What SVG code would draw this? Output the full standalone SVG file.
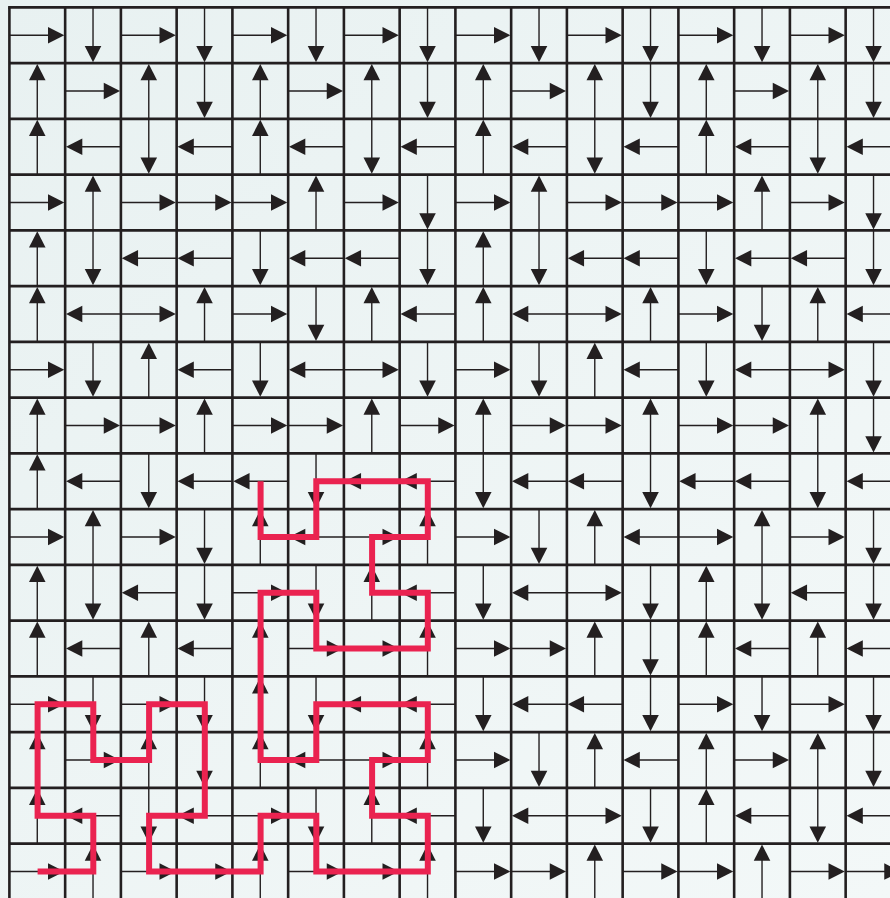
<svg xmlns="http://www.w3.org/2000/svg" width="890" height="898" viewBox="0 0 890 898">
<style>
.grid{fill:none;stroke:#231f20;stroke-width:2.6}
.arr line{stroke:#231f20;stroke-width:1.4;fill:none}
.arr polygon{fill:#231f20;stroke:none}
.path{fill:none;stroke:#ea2350;stroke-width:6;stroke-linejoin:miter;stroke-linecap:butt}
</style>
<defs>
<linearGradient id="bg" x1="0" y1="0" x2="1" y2="1">
<stop offset="0" stop-color="#e8f1f1"/>
<stop offset="1" stop-color="#f3f8f8"/>
</linearGradient>
<g id="R" class="arr"><line x1="0" y1="27.875" x2="40" y2="27.875" stroke="#231f20" stroke-width="1.4"/><polygon points="38.6,19.6 54.9,27.875 38.6,36.15" fill="#231f20"/></g>
<g id="L" class="arr"><line x1="55.75" y1="27.875" x2="15.75" y2="27.875" stroke="#231f20" stroke-width="1.4"/><polygon points="17.15,19.6 0.85,27.875 17.15,36.15" fill="#231f20"/></g>
<g id="D" class="arr"><line x1="27.875" y1="0" x2="27.875" y2="40" stroke="#231f20" stroke-width="1.4"/><polygon points="19.6,38.6 27.875,54.9 36.15,38.6" fill="#231f20"/></g>
<g id="U" class="arr"><line x1="27.875" y1="55.75" x2="27.875" y2="15.75" stroke="#231f20" stroke-width="1.4"/><polygon points="19.6,17.15 27.875,0.85 36.15,17.15" fill="#231f20"/></g>
</defs>
<rect x="0" y="0" width="890" height="898" fill="url(#bg)"/>
<g id="grid" class="grid">
<path d="M9.4 7.4V898M65.15 7.4V898M120.9 7.4V898M176.65 7.4V898M232.4 7.4V898M288.15 7.4V898M343.9 7.4V898M399.65 7.4V898M455.4 7.4V898M511.15 7.4V898M566.9 7.4V898M622.65 7.4V898M678.4 7.4V898M734.15 7.4V898M789.9 7.4V898M845.65 7.4V898"/>
<path d="M8.1 7.4H890M9.4 63.15H890M9.4 118.9H890M9.4 174.65H890M9.4 230.4H890M9.4 286.15H890M9.4 341.9H890M9.4 397.65H890M9.4 453.4H890M9.4 509.15H890M9.4 564.9H890M9.4 620.65H890M9.4 676.4H890M9.4 732.15H890M9.4 787.9H890M9.4 843.65H890"/>
</g>
<g id="arrows">
<g id="row0" transform="translate(9.4,7.4)">
<use href="#R" x="0"/><use href="#D" x="55.75"/><use href="#R" x="111.5"/><use href="#D" x="167.25"/><use href="#R" x="223"/><use href="#D" x="278.75"/><use href="#R" x="334.5"/><use href="#D" x="390.25"/><use href="#R" x="446"/><use href="#D" x="501.75"/><use href="#R" x="557.5"/><use href="#D" x="613.25"/><use href="#R" x="669"/><use href="#D" x="724.75"/><use href="#R" x="780.5"/><use href="#D" x="836.25"/>
</g>
<g id="row1" transform="translate(9.4,63.15)">
<use href="#U" x="0"/><use href="#R" x="55.75"/><use href="#U" x="111.5"/><use href="#D" x="167.25"/><use href="#U" x="223"/><use href="#R" x="278.75"/><use href="#U" x="334.5"/><use href="#D" x="390.25"/><use href="#U" x="446"/><use href="#R" x="501.75"/><use href="#U" x="557.5"/><use href="#D" x="613.25"/><use href="#U" x="669"/><use href="#R" x="724.75"/><use href="#U" x="780.5"/><use href="#D" x="836.25"/>
</g>
<g id="row2" transform="translate(9.4,118.9)">
<use href="#U" x="0"/><use href="#L" x="55.75"/><use href="#D" x="111.5"/><use href="#L" x="167.25"/><use href="#U" x="223"/><use href="#L" x="278.75"/><use href="#D" x="334.5"/><use href="#L" x="390.25"/><use href="#U" x="446"/><use href="#L" x="501.75"/><use href="#D" x="557.5"/><use href="#L" x="613.25"/><use href="#U" x="669"/><use href="#L" x="724.75"/><use href="#D" x="780.5"/><use href="#L" x="836.25"/>
</g>
<g id="row3" transform="translate(9.4,174.65)">
<use href="#R" x="0"/><use href="#U" x="55.75"/><use href="#R" x="111.5"/><use href="#R" x="167.25"/><use href="#R" x="223"/><use href="#U" x="278.75"/><use href="#R" x="334.5"/><use href="#D" x="390.25"/><use href="#R" x="446"/><use href="#U" x="501.75"/><use href="#R" x="557.5"/><use href="#R" x="613.25"/><use href="#R" x="669"/><use href="#U" x="724.75"/><use href="#R" x="780.5"/><use href="#D" x="836.25"/>
</g>
<g id="row4" transform="translate(9.4,230.4)">
<use href="#U" x="0"/><use href="#D" x="55.75"/><use href="#L" x="111.5"/><use href="#L" x="167.25"/><use href="#D" x="223"/><use href="#L" x="278.75"/><use href="#L" x="334.5"/><use href="#D" x="390.25"/><use href="#U" x="446"/><use href="#D" x="501.75"/><use href="#L" x="557.5"/><use href="#L" x="613.25"/><use href="#D" x="669"/><use href="#L" x="724.75"/><use href="#L" x="780.5"/><use href="#D" x="836.25"/>
</g>
<g id="row5" transform="translate(9.4,286.15)">
<use href="#U" x="0"/><use href="#L" x="55.75"/><use href="#R" x="111.5"/><use href="#U" x="167.25"/><use href="#R" x="223"/><use href="#D" x="278.75"/><use href="#U" x="334.5"/><use href="#L" x="390.25"/><use href="#U" x="446"/><use href="#L" x="501.75"/><use href="#R" x="557.5"/><use href="#U" x="613.25"/><use href="#R" x="669"/><use href="#D" x="724.75"/><use href="#U" x="780.5"/><use href="#L" x="836.25"/>
</g>
<g id="row6" transform="translate(9.4,341.9)">
<use href="#R" x="0"/><use href="#D" x="55.75"/><use href="#U" x="111.5"/><use href="#L" x="167.25"/><use href="#D" x="223"/><use href="#L" x="278.75"/><use href="#R" x="334.5"/><use href="#D" x="390.25"/><use href="#R" x="446"/><use href="#D" x="501.75"/><use href="#U" x="557.5"/><use href="#L" x="613.25"/><use href="#D" x="669"/><use href="#L" x="724.75"/><use href="#R" x="780.5"/><use href="#D" x="836.25"/>
</g>
<g id="row7" transform="translate(9.4,397.65)">
<use href="#U" x="0"/><use href="#R" x="55.75"/><use href="#R" x="111.5"/><use href="#U" x="167.25"/><use href="#R" x="223"/><use href="#R" x="278.75"/><use href="#U" x="334.5"/><use href="#R" x="390.25"/><use href="#U" x="446"/><use href="#R" x="501.75"/><use href="#R" x="557.5"/><use href="#U" x="613.25"/><use href="#R" x="669"/><use href="#R" x="724.75"/><use href="#U" x="780.5"/><use href="#D" x="836.25"/>
</g>
<g id="row8" transform="translate(9.4,453.4)">
<use href="#U" x="0"/><use href="#L" x="55.75"/><use href="#D" x="111.5"/><use href="#L" x="167.25"/><use href="#L" x="223"/><use href="#D" x="278.75"/><use href="#L" x="334.5"/><use href="#L" x="390.25"/><use href="#D" x="446"/><use href="#L" x="501.75"/><use href="#L" x="557.5"/><use href="#D" x="613.25"/><use href="#L" x="669"/><use href="#L" x="724.75"/><use href="#D" x="780.5"/><use href="#L" x="836.25"/>
</g>
<g id="row9" transform="translate(9.4,509.15)">
<use href="#R" x="0"/><use href="#U" x="55.75"/><use href="#R" x="111.5"/><use href="#D" x="167.25"/><use href="#U" x="223"/><use href="#L" x="278.75"/><use href="#R" x="334.5"/><use href="#U" x="390.25"/><use href="#R" x="446"/><use href="#D" x="501.75"/><use href="#U" x="557.5"/><use href="#L" x="613.25"/><use href="#R" x="669"/><use href="#U" x="724.75"/><use href="#R" x="780.5"/><use href="#D" x="836.25"/>
</g>
<g id="row10" transform="translate(9.4,564.9)">
<use href="#U" x="0"/><use href="#D" x="55.75"/><use href="#L" x="111.5"/><use href="#D" x="167.25"/><use href="#R" x="223"/><use href="#D" x="278.75"/><use href="#U" x="334.5"/><use href="#L" x="390.25"/><use href="#D" x="446"/><use href="#L" x="501.75"/><use href="#R" x="557.5"/><use href="#D" x="613.25"/><use href="#U" x="669"/><use href="#D" x="724.75"/><use href="#L" x="780.5"/><use href="#D" x="836.25"/>
</g>
<g id="row11" transform="translate(9.4,620.65)">
<use href="#U" x="0"/><use href="#L" x="55.75"/><use href="#U" x="111.5"/><use href="#L" x="167.25"/><use href="#U" x="223"/><use href="#R" x="278.75"/><use href="#R" x="334.5"/><use href="#U" x="390.25"/><use href="#R" x="446"/><use href="#R" x="501.75"/><use href="#U" x="557.5"/><use href="#D" x="613.25"/><use href="#U" x="669"/><use href="#L" x="724.75"/><use href="#U" x="780.5"/><use href="#L" x="836.25"/>
</g>
<g id="row12" transform="translate(9.4,676.4)">
<use href="#R" x="0"/><use href="#D" x="55.75"/><use href="#R" x="111.5"/><use href="#D" x="167.25"/><use href="#U" x="223"/><use href="#D" x="278.75"/><use href="#L" x="334.5"/><use href="#L" x="390.25"/><use href="#D" x="446"/><use href="#L" x="501.75"/><use href="#L" x="557.5"/><use href="#D" x="613.25"/><use href="#R" x="669"/><use href="#D" x="724.75"/><use href="#R" x="780.5"/><use href="#D" x="836.25"/>
</g>
<g id="row13" transform="translate(9.4,732.15)">
<use href="#U" x="0"/><use href="#R" x="55.75"/><use href="#U" x="111.5"/><use href="#D" x="167.25"/><use href="#U" x="223"/><use href="#L" x="278.75"/><use href="#R" x="334.5"/><use href="#U" x="390.25"/><use href="#R" x="446"/><use href="#D" x="501.75"/><use href="#U" x="557.5"/><use href="#L" x="613.25"/><use href="#U" x="669"/><use href="#R" x="724.75"/><use href="#U" x="780.5"/><use href="#D" x="836.25"/>
</g>
<g id="row14" transform="translate(9.4,787.9)">
<use href="#U" x="0"/><use href="#L" x="55.75"/><use href="#D" x="111.5"/><use href="#L" x="167.25"/><use href="#R" x="223"/><use href="#D" x="278.75"/><use href="#U" x="334.5"/><use href="#L" x="390.25"/><use href="#D" x="446"/><use href="#L" x="501.75"/><use href="#R" x="557.5"/><use href="#D" x="613.25"/><use href="#U" x="669"/><use href="#L" x="724.75"/><use href="#D" x="780.5"/><use href="#L" x="836.25"/>
</g>
<g id="row15" transform="translate(9.4,843.65)">
<use href="#R" x="0"/><use href="#U" x="55.75"/><use href="#R" x="111.5"/><use href="#R" x="167.25"/><use href="#U" x="223"/><use href="#R" x="278.75"/><use href="#R" x="334.5"/><use href="#U" x="390.25"/><use href="#R" x="446"/><use href="#R" x="501.75"/><use href="#U" x="557.5"/><use href="#R" x="613.25"/><use href="#R" x="669"/><use href="#U" x="724.75"/><use href="#R" x="780.5"/><use href="#R" x="836.25"/>
</g>
</g>
<g id="red-path">
<polyline class="path" points="37.6,871.5 93.3,871.5 93.3,815.8 37.6,815.8 37.6,704.3 93.3,704.3 93.3,760 149.1,760 149.1,704.3 204.8,704.3 204.8,815.8 149.1,815.8 149.1,871.5 260.6,871.5 260.6,815.8 316.3,815.8 316.3,871.5 427.8,871.5 427.8,815.8 372.1,815.8 372.1,760 427.8,760 427.8,704.3 316.3,704.3 316.3,760 260.6,760 260.6,592.8 316.3,592.8 316.3,648.5 427.8,648.5 427.8,592.8 372.1,592.8 372.1,537 427.8,537 427.8,481.3 316.3,481.3 316.3,537 260.6,537 260.6,481.3"/>
</g>
</svg>
